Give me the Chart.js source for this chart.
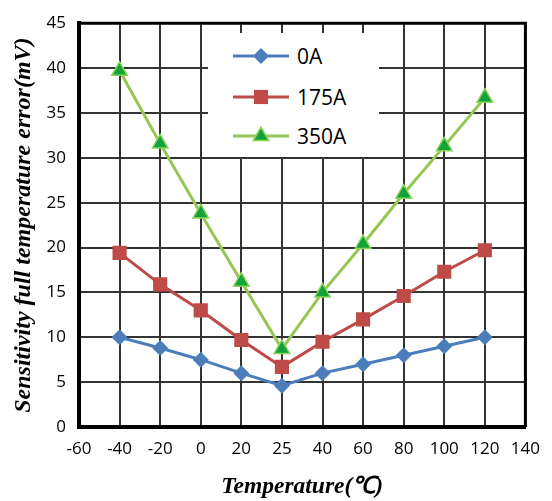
<!DOCTYPE html>
<html>
<head>
<meta charset="utf-8">
<script src="https://cdn.jsdelivr.net/npm/chart.js@4"></script>
<style>
  html, body { margin: 0; padding: 0; background: #fff; }
  #wrap { position: relative; width: 552px; height: 501px; }
  #legendBox { position: absolute; left: 208px; top: 33px; width: 171px; height: 124px; background: #fff; }
  .row { position: absolute; left: 25px; height: 30px; display: flex; align-items: center;
         font: 21px "Open Sans", sans-serif; color: #000; }
  .row svg { margin-right: 8px; }
</style>
</head>
<body>
<div id="wrap">
  <canvas id="errChart" width="552" height="501"></canvas>
  <div id="legendBox"></div>
</div>
<script>
// temperature categories (edge labels -60 / 140 carry no data)
const temps = ['-60', '-40', '-20', '0', '20', '25', '40', '60', '80', '100', '120', '140'];
const seriesNames = ['0A', '175A', '350A'];
const err0A   = [null, 10.0, 8.8, 7.5, 6.0, 4.6, 6.0, 7.0, 8.0, 9.0, 10.0, null];
const err175A = [null, 19.4, 15.9, 13.0, 9.7, 6.7, 9.5, 12.0, 14.6, 17.3, 19.7, null];
const err350A = [null, 39.7, 31.6, 23.8, 16.2, 8.7, 15.0, 20.4, 26.0, 31.3, 36.7, null];
const yMin = 0, yMax = 45, yStep = 5;

const ink = '#000';
const gridInk = '#333';
const tickFont = { family: '"Open Sans", sans-serif', size: 17 };
const serif = '"Liberation Serif", "Times New Roman", serif';

// thicker top/right edge of the plot
const plotFrame = {
    id: 'plotFrame',
    afterDraw(chart) {
        const { left, right, top, bottom } = chart.chartArea;
        const ctx = chart.ctx;
        ctx.save();
        ctx.strokeStyle = ink;
        ctx.lineWidth = 3;
        ctx.beginPath();
        ctx.moveTo(left, top);
        ctx.lineTo(right, top);
        ctx.lineTo(right, bottom);
        ctx.stroke();
        ctx.restore();
    }
};

function makeSet(label, data, line, fill, edge, style, r) {
    return {
        label: label,
        data: data,
        borderColor: line,
        borderWidth: 3,
        pointStyle: style,
        pointRadius: r,
        pointHoverRadius: r,
        pointBackgroundColor: fill,
        pointBorderColor: edge,
        pointBorderWidth: edge === fill ? 0 : 1.5,
        tension: 0
    };
}

const chart = new Chart(document.getElementById('errChart'), {
    type: 'line',
    data: {
        labels: temps,
        datasets: [
            makeSet(seriesNames[0], err0A, '#4A7EBB', '#4A7EBB', '#4A7EBB', 'rectRot', 8),
            makeSet(seriesNames[1], err175A, '#BE4B48', '#BE4B48', '#BE4B48', 'rect', 10),
            makeSet(seriesNames[2], err350A, '#98C654', '#13A33A', '#8CD35A', 'triangle', 9)
        ]
    },
    options: {
        responsive: false,
        animation: false,
        devicePixelRatio: 1,
        layout: { padding: { top: 17, right: 17, left: 0, bottom: 0 } },
        plugins: { legend: { display: false }, tooltip: { enabled: false } },
        scales: {
            x: {
                offset: false,
                grid: { color: gridInk, lineWidth: 2, drawTicks: false },
                border: { color: ink, width: 4 },
                ticks: { color: ink, font: tickFont, padding: 12, maxRotation: 0, autoSkip: false },
                title: {
                    display: true,
                    text: 'Temperature(℃)',
                    color: ink,
                    font: { family: serif, size: 23.5, weight: 'bold', style: 'italic' },
                    padding: { top: 4, bottom: 0 }
                },
                afterFit(s) { s.height = 74; }
            },
            y: {
                min: yMin,
                max: yMax,
                ticks: { stepSize: yStep, color: ink, font: tickFont, padding: 13 },
                grid: { color: gridInk, lineWidth: 2, drawTicks: false },
                border: { color: ink, width: 4 },
                title: {
                    display: true,
                    text: 'Sensitivity full temperature error(mV)',
                    color: ink,
                    font: { family: serif, size: 24, weight: 'bold', style: 'italic' },
                    padding: { top: 9, bottom: 0 }
                },
                afterFit(s) { s.width = 79; }
            }
        }
    },
    plugins: [plotFrame]
});

// html legend sitting inside the plot (excel style), built from the datasets
const rowCenters = [23, 64, 103];
const legendBox = document.getElementById('legendBox');
chart.data.datasets.forEach((ds, i) => {
    const r = ds.pointRadius;
    let marker;
    if (ds.pointStyle === 'rectRot') {
        marker = `<polygon points="28,${11 - r} ${28 + r},11 28,${11 + r} ${28 - r},11" fill="${ds.pointBackgroundColor}"/>`;
    } else if (ds.pointStyle === 'rect') {
        const s = r * Math.SQRT1_2;
        marker = `<rect x="${28 - s}" y="${11 - s}" width="${2 * s}" height="${2 * s}" fill="${ds.pointBackgroundColor}"/>`;
    } else {
        const h = r * Math.sin(Math.PI / 3);
        marker = `<polygon points="28,${11 - r} ${28 + h},${11 + r / 2} ${28 - h},${11 + r / 2}" fill="${ds.pointBackgroundColor}" stroke="${ds.pointBorderColor}" stroke-width="${ds.pointBorderWidth}"/>`;
    }
    const row = document.createElement('div');
    row.className = 'row';
    row.style.top = (rowCenters[i] - 15) + 'px';
    row.innerHTML = `<svg width="56" height="22"><line x1="0" y1="11" x2="56" y2="11" stroke="${ds.borderColor}" stroke-width="3"/>${marker}</svg><span>${ds.label}</span>`;
    legendBox.appendChild(row);
});
</script>
</body>
</html>
